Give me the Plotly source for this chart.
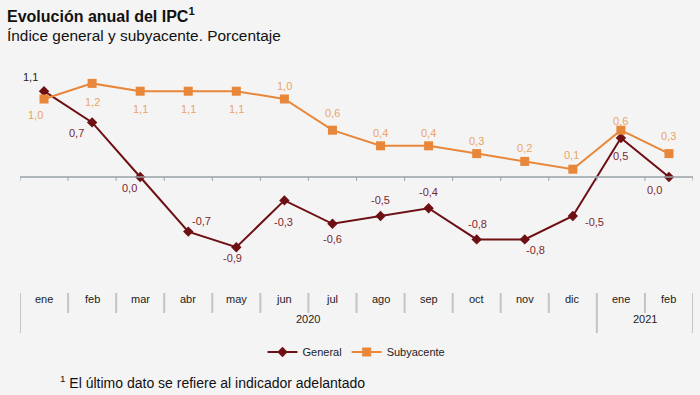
import plotly.graph_objects as go

months = ["ene", "feb", "mar", "abr", "may", "jun", "jul", "ago", "sep", "oct", "nov", "dic", "ene", "feb"]
years = ["2020", "2021"]
year_spans = [(0, 11), (12, 13)]
general = [1.1, 0.7, 0.0, -0.7, -0.9, -0.3, -0.6, -0.5, -0.4, -0.8, -0.8, -0.5, 0.5, 0.0]
subyacente = [1.0, 1.2, 1.1, 1.1, 1.1, 1.0, 0.6, 0.4, 0.4, 0.3, 0.2, 0.1, 0.6, 0.3]

# label pixel offsets (dx, dy) relative to point; dy positive = up
gen_off = [(-14, 14), (-16, -11), (-11, -11), (13, 11), (-4, -11), (-1, -22), (0, -15),
           (0, 16), (0, 16), (1, 15), (11, -11), (22, -6), (0, -18), (-14, -13)]
sub_off = [(-9, -16), (0, -19), (0, -18), (0, -18), (0, -18), (0, 13), (0, 17),
           (0, 13), (0, 13), (0, 13), (0, 13), (-1, 14), (0, 9), (0, 18)]

GEN_C = "#6e0f14"
SUB_C = "#e8873a"
GEN_T = "#7a2830"
SUB_T = "#e9a466"
FONT = "Liberation Sans, Arial, sans-serif"

W, H = 700, 395
L, R, T, B = 20, 7, 60, 120
PH = H - T - B


def py(p):
    return (H - B - p) / PH


x = list(range(len(months)))
fig = go.Figure()
fig.add_trace(go.Scatter(x=x, y=general, mode="lines+markers", name="General",
                         line=dict(color=GEN_C, width=2),
                         marker=dict(symbol="diamond", size=8, color=GEN_C)))
fig.add_trace(go.Scatter(x=x, y=subyacente, mode="lines+markers", name="Subyacente",
                         line=dict(color=SUB_C, width=2),
                         marker=dict(symbol="square", size=9, color=SUB_C)))


def fmt(v):
    return f"{v:.1f}".replace(".", ",")


ann = []
for i, v in enumerate(general):
    dx, dy = gen_off[i]
    ann.append(dict(x=i, y=v, xref="x", yref="y", text=fmt(v), showarrow=False,
                    xshift=dx, yshift=dy,
                    font=dict(size=11, color="#2a1a1a" if i == 0 else GEN_T, family=FONT)))
for i, v in enumerate(subyacente):
    dx, dy = sub_off[i]
    ann.append(dict(x=i, y=v, xref="x", yref="y", text=fmt(v), showarrow=False,
                    xshift=dx, yshift=dy, font=dict(size=11, color=SUB_T, family=FONT)))

# month labels
for i, m in enumerate(months):
    ann.append(dict(x=i, y=py(307), xref="x", yref="paper", text=m, showarrow=False,
                    font=dict(size=11, color="#222", family=FONT)))
for (a, b), yr in zip(year_spans, years):
    ann.append(dict(x=(a + b) / 2, y=py(327), xref="x", yref="paper", text=yr, showarrow=False,
                    font=dict(size=11, color="#222", family=FONT)))

# title / subtitle / footnote
ann.append(dict(x=0, y=py(15), xref="paper", yref="paper", text="<b>Evolución anual del IPC<sup>1</sup></b>",
                showarrow=False, xanchor="left", yanchor="middle", xshift=-15,
                font=dict(size=16, color="#111", family=FONT)))
ann.append(dict(x=0, y=py(35), xref="paper", yref="paper", text="Índice general y subyacente. Porcentaje",
                showarrow=False, xanchor="left", yanchor="middle", xshift=-15,
                font=dict(size=15.4, color="#111", family=FONT)))
ann.append(dict(x=0, y=py(382), xref="paper", yref="paper",
                text="<sup>1</sup> El último dato se refiere al indicador adelantado",
                showarrow=False, xanchor="left", yanchor="middle", xshift=38,
                font=dict(size=14, color="#111", family=FONT)))

shapes = []
# zero axis line with ticks
shapes.append(dict(type="line", xref="x", yref="y", x0=-0.5, x1=len(months) - 0.5, y0=0, y1=0,
                   line=dict(color="#9aa3a8", width=1.5)))
for i in range(len(months) + 1):
    shapes.append(dict(type="line", xref="x", yref="y", ysizemode="pixel", yanchor=0,
                       x0=i - 0.5, x1=i - 0.5, y0=0, y1=-4, line=dict(color="#9aa3a8", width=1)))
# table dividers
long_div = {-0.5, 11.5, 13.5}
for i in range(len(months) + 1):
    xv = i - 0.5
    bottom = 333 if xv in long_div else 313
    shapes.append(dict(type="line", xref="x", yref="paper", x0=xv, x1=xv, y0=py(293), y1=py(bottom),
                       line=dict(color="#c4c4c4", width=2)))

fig.update_layout(
    width=W, height=H,
    margin=dict(l=L, r=R, t=T, b=B),
    paper_bgcolor="#f4f4f4", plot_bgcolor="#f4f4f4",
    font=dict(family=FONT),
    xaxis=dict(range=[-0.5, len(months) - 0.5], visible=False),
    yaxis=dict(range=[-(H - B - 177) / 78, (177 - T) / 78], visible=False),
    showlegend=True,
    legend=dict(orientation="h", x=0.5, xanchor="center", y=py(352), yanchor="middle",
                font=dict(size=11, color="#222", family=FONT), bgcolor="rgba(0,0,0,0)",
                itemwidth=30),
    annotations=ann,
    shapes=shapes,
)

fig.write_html("out.html", config={"displayModeBar": False},
               post_script="document.body.style.margin='0';document.body.style.background='#f4f4f4';")
